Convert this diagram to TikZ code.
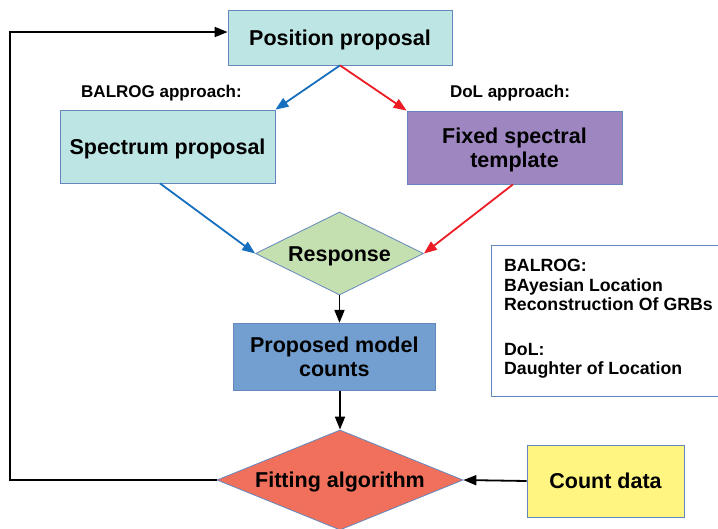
\documentclass[tikz,border=0pt]{standalone}
\usepackage{fontspec}
\setmainfont{Liberation Sans}
\usetikzlibrary{arrows.meta,shapes.geometric}
\definecolor{boxline}{RGB}{100,135,190}
\definecolor{tealfill}{RGB}{189,229,227}
\definecolor{purpfill}{RGB}{158,134,192}
\definecolor{greenfill}{RGB}{196,224,176}
\definecolor{propfill}{RGB}{114,159,207}
\definecolor{fitfill}{RGB}{241,112,92}
\definecolor{yelfill}{RGB}{255,245,128}
\definecolor{bluearrow}{RGB}{21,110,190}
\definecolor{redarrow}{RGB}{237,28,36}
\begin{document}
\begin{tikzpicture}[x=1pt,y=-1pt,
  mainfont/.style={font=\bfseries\fontsize{21.5}{24}\selectfont},
  box/.style={draw=boxline, line width=0.8pt, inner sep=0pt, align=center, mainfont},
  onel/.style={text height=15.4pt, text depth=0pt},
  dia/.style={diamond, draw=boxline, line width=0.8pt, inner sep=0pt, mainfont, text height=15.4pt, text depth=0pt},
  lab/.style={font=\bfseries\fontsize{17}{20}\selectfont, inner sep=0pt, anchor=base},
  arr/.style={line width=1.8pt, -{Triangle[length=13pt,width=10pt]}},
  barrow/.style={arr, draw=bluearrow},
  rarrow/.style={arr, draw=redarrow},
  karrow/.style={arr, draw=black},
]
\useasboundingbox (0,0) rectangle (718,528);

\node[box, onel, fill=tealfill, minimum width=224pt, minimum height=55pt] (pos) at (340,37.5) {Position proposal};
\node[box, onel, fill=tealfill, minimum width=215pt, minimum height=73pt] (spec) at (167.5,146.5) {Spectrum proposal};
\node[box, fill=purpfill, minimum width=215pt, minimum height=73pt, text depth=0pt] (fixed) at (514.5,147.5) {Fixed spectral\\template};
\node[dia, fill=greenfill, minimum width=168pt, minimum height=83pt, aspect=2.02] (resp) at (339.5,253.5) {Response};
\node[box, fill=propfill, minimum width=202.5pt, minimum height=67.5pt, text depth=0pt] (prop) at (334.3,357) {Proposed model\\counts};
\node[dia, fill=fitfill, minimum width=246pt, minimum height=100pt, aspect=2.46] (fit) at (340,480) {Fitting algorithm};
\node[box, onel, fill=yelfill, minimum width=157pt, minimum height=72pt] (count) at (605.5,481) {Count data};

\node[lab] (lbal) at (161.5,97) {BALROG approach:};
\node[lab] (ldol) at (510,97) {DoL approach:};

\node[draw=boxline, line width=0.8pt, anchor=north west, minimum width=232pt, minimum height=151pt, inner sep=0pt] (legbox) at (491,245) {};
\node[anchor=north west, inner sep=0pt, align=left, font=\bfseries\fontsize{17.7}{19.6}\selectfont] (legtext) at (504,259)
  {BALROG:\\BAyesian Location\\Reconstruction Of GRBs\\[25pt]DoL:\\Daughter of Location};

\draw[barrow] (pos.south) -- (spec.north east);
\draw[rarrow] (pos.south) -- (fixed.north west);
\draw[barrow] ([xshift=-7.5pt]spec.south) -- (resp.west);
\draw[rarrow] ([xshift=-1.5pt]fixed.south) -- (resp.east);
\draw[karrow] (resp.south) -- (resp.south |- prop.north);
\draw[karrow] (prop.south -| fit.north) -- (fit.north);
\draw[karrow] (count.west) -- (fit.east);
\draw[karrow] (fit.west) -- ++(-207,0) |- ([yshift=5.5pt]pos.west);
\end{tikzpicture}
\end{document}
